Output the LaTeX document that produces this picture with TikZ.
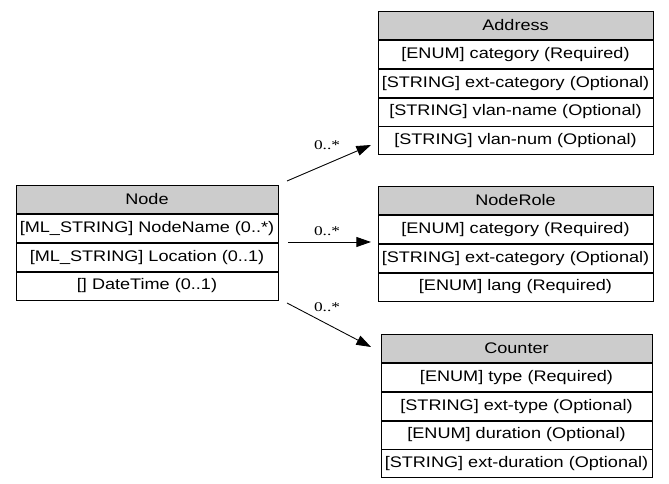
\documentclass[tikz,border=0pt]{standalone}
\usepackage{fontspec}
\setmainfont{Liberation Sans}[FakeStretch=1.18]
\newfontfamily\multfont{Liberation Serif}[FakeStretch=1.3]
\usetikzlibrary{positioning,arrows.meta}

\tikzset{
  row/.style={draw, line width=0.65pt, fill=white, minimum height=21pt, inner sep=0pt,
    anchor=north, font=\fontsize{11.5}{13}\selectfont},
  head/.style={row, fill=black!20},
  link/.style={-{Triangle[length=11pt,width=7.5pt]}, line width=0.65pt},
  mult/.style={font=\multfont\fontsize{10}{12}\selectfont, inner sep=0pt},
}

\begin{document}
\begin{tikzpicture}[x=0.75pt,y=-0.75pt]
  \useasboundingbox (0,0) rectangle (669,484);

  % Node
  \begin{scope}[every node/.append style={minimum width=196.5pt}]
    \node[head] (node-hd) at (147,185) {Node};
    \node[row, below=0pt of node-hd] (node-r1) {[ML\_STRING] NodeName (0..*)};
    \node[row, below=0pt of node-r1] (node-r2) {[ML\_STRING] Location (0..1)};
    \node[row, below=0pt of node-r2] (node-r3) {[] DateTime (0..1)};
  \end{scope}

  % Address
  \begin{scope}[every node/.append style={minimum width=206.25pt}]
    \node[head] (addr-hd) at (515.5,11) {Address};
    \node[row, below=0pt of addr-hd] (addr-r1) {[ENUM] category (Required)};
    \node[row, below=0pt of addr-r1] (addr-r2) {[STRING] ext-category (Optional)};
    \node[row, below=0pt of addr-r2] (addr-r3) {[STRING] vlan-name (Optional)};
    \node[row, below=0pt of addr-r3] (addr-r4) {[STRING] vlan-num (Optional)};
  \end{scope}

  % NodeRole
  \begin{scope}[every node/.append style={minimum width=206.25pt}]
    \node[head] (role-hd) at (515.5,186) {NodeRole};
    \node[row, below=0pt of role-hd] (role-r1) {[ENUM] category (Required)};
    \node[row, below=0pt of role-r1] (role-r2) {[STRING] ext-category (Optional)};
    \node[row, below=0pt of role-r2] (role-r3) {[ENUM] lang (Required)};
  \end{scope}

  % Counter
  \begin{scope}[every node/.append style={minimum width=203.25pt}]
    \node[head] (cnt-hd) at (516.5,334) {Counter};
    \node[row, below=0pt of cnt-hd] (cnt-r1) {[ENUM] type (Required)};
    \node[row, below=0pt of cnt-r1] (cnt-r2) {[STRING] ext-type (Optional)};
    \node[row, below=0pt of cnt-r2] (cnt-r3) {[ENUM] duration (Optional)};
    \node[row, below=0pt of cnt-r3] (cnt-r4) {[STRING] ext-duration (Optional)};
  \end{scope}

  % Verbindungen
  \coordinate (addr-s) at (287,181);
  \coordinate (addr-t) at (371,145);
  \coordinate (role-s) at (288,242);
  \coordinate (role-t) at (371,242);
  \coordinate (cnt-s) at (287,303);
  \coordinate (cnt-t) at (371,347);
  \draw[link] (addr-s) -- (addr-t);
  \draw[link] (role-s) -- (role-t);
  \draw[link] (cnt-s) -- (cnt-t);
  \node[mult] (addr-m) at (327,145) {0..*};
  \node[mult] (role-m) at (327,231) {0..*};
  \node[mult] (cnt-m) at (327,307) {0..*};
\end{tikzpicture}
\end{document}
